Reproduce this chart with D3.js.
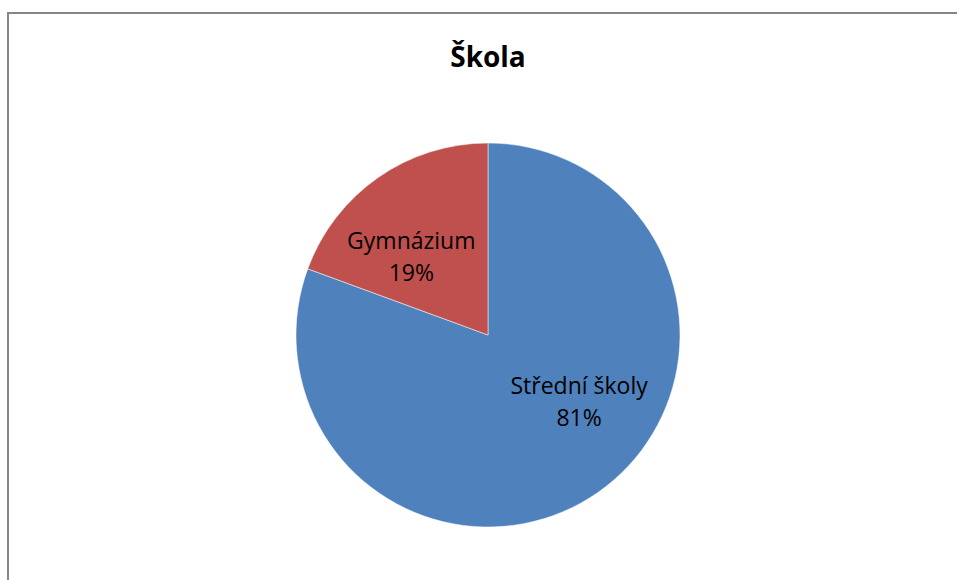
<!DOCTYPE html>
<html><head><meta charset="utf-8">
<script src="https://cdn.jsdelivr.net/npm/d3@7"></script>
<style>html,body{margin:0;padding:0;background:#fff;} svg{display:block;}</style>
</head><body>
<svg id="c" width="957" height="580"></svg>
<script>
const title = "Škola";
const categories = ["Střední školy", "Gymnázium"];
const values = [80.6, 19.4];
const colors = ["#4F81BD", "#C0504D"];
// label placement (angle from 12 o'clock in degrees, fraction of radius)
const labelAngles = [129.5, -47.7];
const labelRadii = [0.615, 0.54];

const svg = d3.select("#c");
const font = "'Open Sans', sans-serif";

svg.append("rect").attr("x", 8).attr("y", 13).attr("width", 1000).attr("height", 1000)
  .attr("fill", "#fff").attr("stroke", "#868686").attr("stroke-width", 2);

svg.append("text").attr("x", 488).attr("y", 67).attr("text-anchor", "middle")
  .attr("font-family", font).attr("font-weight", "bold").attr("font-size", 28)
  .attr("fill", "#000").text(title);

const cx = 488, cy = 335, r = 192;
const g = svg.append("g").attr("transform", `translate(${cx},${cy})`);
const pie = d3.pie().sort(null).value(d => d)(values);
const arc = d3.arc().innerRadius(0).outerRadius(r);
g.selectAll("path").data(pie).join("path")
  .attr("d", arc).attr("fill", (d, i) => colors[i])
  .attr("stroke", "#fff").attr("stroke-width", 0.5);

const total = d3.sum(values);
g.selectAll("text.lbl").data(pie).join("text").attr("class", "lbl")
  .attr("font-family", font).attr("font-size", 23).attr("fill", "#000")
  .attr("text-anchor", "middle")
  .each(function(d, i) {
    const a = labelAngles[i] * Math.PI / 180;
    const x = Math.sin(a) * r * labelRadii[i];
    const y = -Math.cos(a) * r * labelRadii[i];
    const t = d3.select(this);
    t.append("tspan").attr("x", x).attr("y", y - 16).text(categories[i]);
    t.append("tspan").attr("x", x).attr("y", y + 16).text(Math.round(d.value / total * 100) + "%");
  });
</script>
</body></html>
